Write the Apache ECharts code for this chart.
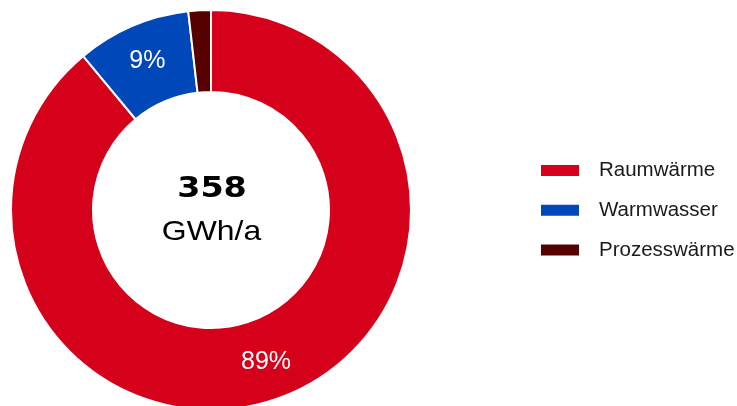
<!DOCTYPE html>
<html>
<head>
<meta charset="utf-8">
<script src="https://cdn.jsdelivr.net/npm/echarts@6/dist/echarts.min.js"></script>
<style>
html,body{margin:0;padding:0;background:#fff;}
#c{width:737px;height:406px;}
</style>
</head>
<body>
<div id="c"></div>
<script>
const categories = ['Raumwärme', 'Warmwasser', 'Prozesswärme'];
const values = [318.5, 33, 6.5];
const colors = ['#d5001a', '#0048b9', '#560000'];
const totalLabel = '358';
const unitLabel = 'GWh/a';

const chart = echarts.init(document.getElementById('c'), null, {renderer: 'canvas'});
const data = categories.map((name, i) => ({
  name: name,
  value: values[i],
  itemStyle: {color: colors[i]},
  label: {show: i < 2}
}));

chart.setOption({
  animation: false,
  legend: {
    orient: 'vertical',
    left: 539,
    top: 160,
    padding: 0,
    itemWidth: 40,
    itemHeight: 13,
    itemGap: 18.8,
    icon: 'rect',
    data: categories,
    textStyle: {
      fontFamily: 'Liberation Sans',
      fontSize: 20.5,
      color: '#1a1a1a',
      padding: [0, 0, 0, 14]
    }
  },
  graphic: [
    {
      type: 'text', x: 212, y: 189, scaleX: 1.15,
      style: {text: totalLabel, fontFamily: 'DejaVu Sans', fontWeight: 'bold', fontSize: 29,
              fill: '#000', align: 'center', verticalAlign: 'middle'}
    },
    {
      type: 'text', x: 211.5, y: 232, scaleX: 1.12,
      style: {text: unitLabel, fontFamily: 'Liberation Sans', fontSize: 28.5,
              fill: '#000', align: 'center', verticalAlign: 'middle'}
    }
  ],
  series: [{
    type: 'pie',
    center: [211, 210],
    radius: [118, 200],
    startAngle: 90,
    clockwise: true,
    avoidLabelOverlap: false,
    itemStyle: {borderColor: '#fff', borderWidth: 2},
    label: {
      position: 'inside',
      color: '#fff',
      fontFamily: 'Liberation Sans',
      fontSize: 25,
      formatter: p => Math.round(p.percent) + '%'
    },
    labelLine: {show: false},
    emphasis: {disabled: true},
    data: data
  }]
});
</script>
</body>
</html>
